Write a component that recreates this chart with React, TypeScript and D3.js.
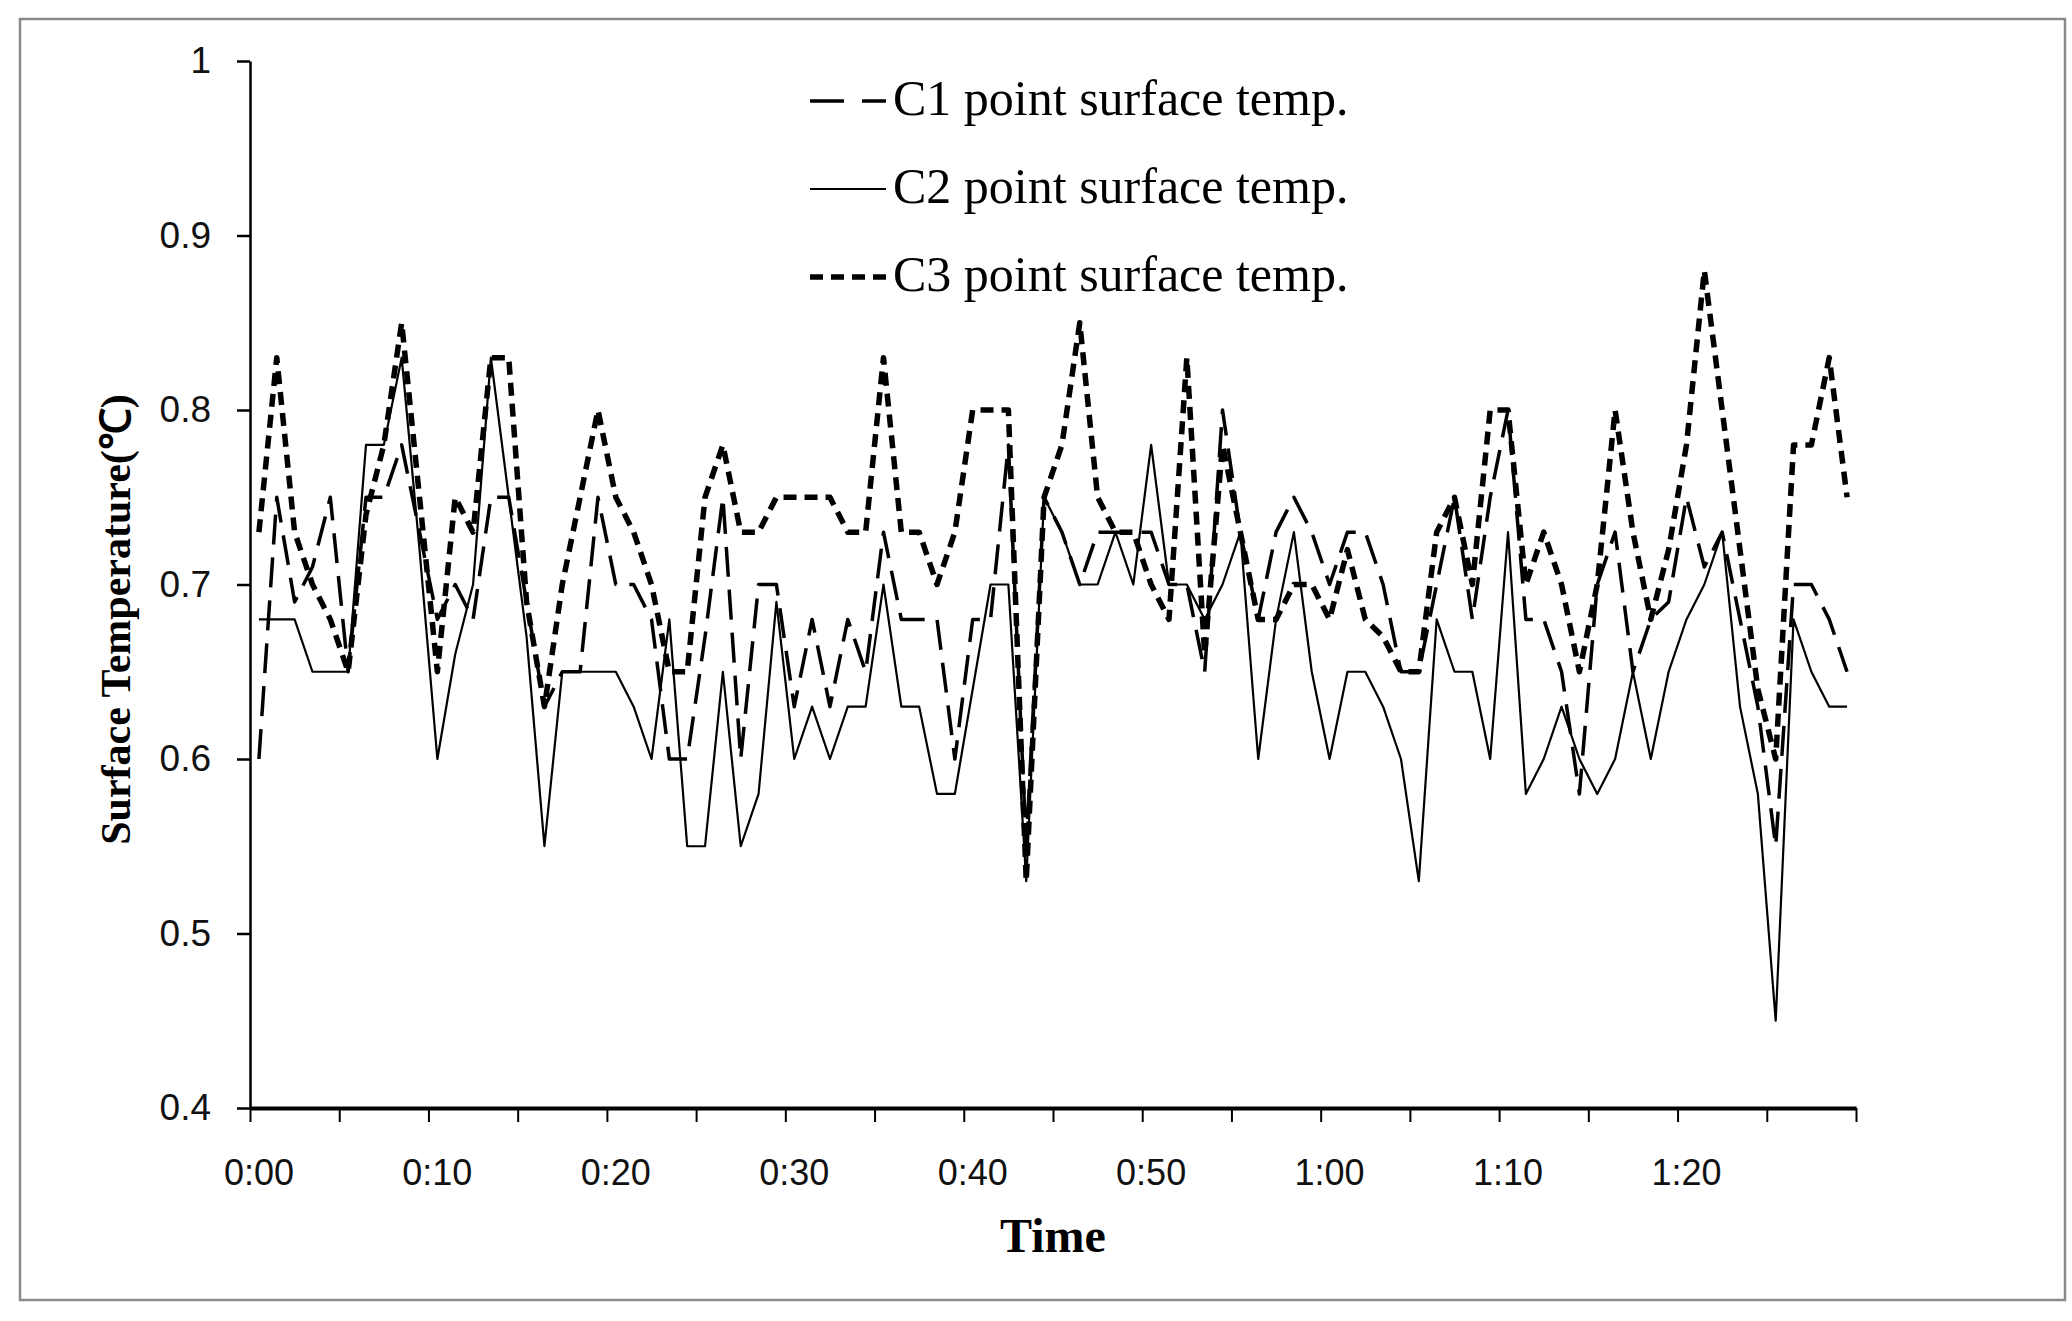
import React, { useEffect, useRef } from 'react';
import * as d3 from 'd3';

// one reading per minute, 0:00 .. 1:29
const times = d3.range(90).map(m => `${Math.floor(m / 60)}:${String(m % 60).padStart(2, '0')}`);

const c1Values = [
  0.60, 0.75, 0.69, 0.71, 0.75, 0.65, 0.75, 0.75, 0.78, 0.73,
  0.68, 0.70, 0.68, 0.75, 0.75, 0.69, 0.63, 0.65, 0.65, 0.75,
  0.70, 0.70, 0.68, 0.60, 0.60, 0.67, 0.75, 0.60, 0.70, 0.70,
  0.63, 0.68, 0.63, 0.68, 0.65, 0.73, 0.68, 0.68, 0.68, 0.60,
  0.68, 0.68, 0.78, 0.55, 0.75, 0.73, 0.70, 0.73, 0.73, 0.73,
  0.73, 0.70, 0.70, 0.65, 0.80, 0.73, 0.68, 0.73, 0.75, 0.73,
  0.70, 0.73, 0.73, 0.70, 0.65, 0.65, 0.70, 0.75, 0.68, 0.75,
  0.80, 0.68, 0.68, 0.65, 0.58, 0.70, 0.73, 0.65, 0.68, 0.69,
  0.75, 0.71, 0.73, 0.68, 0.63, 0.55, 0.70, 0.70, 0.68, 0.65,
];

const c2Values = [
  0.68, 0.68, 0.68, 0.65, 0.65, 0.65, 0.78, 0.78, 0.83, 0.72,
  0.60, 0.66, 0.70, 0.83, 0.75, 0.67, 0.55, 0.65, 0.65, 0.65,
  0.65, 0.63, 0.60, 0.68, 0.55, 0.55, 0.65, 0.55, 0.58, 0.69,
  0.60, 0.63, 0.60, 0.63, 0.63, 0.70, 0.63, 0.63, 0.58, 0.58,
  0.64, 0.70, 0.70, 0.53, 0.75, 0.73, 0.70, 0.70, 0.73, 0.70,
  0.78, 0.70, 0.70, 0.68, 0.70, 0.73, 0.60, 0.68, 0.73, 0.65,
  0.60, 0.65, 0.65, 0.63, 0.60, 0.53, 0.68, 0.65, 0.65, 0.60,
  0.73, 0.58, 0.60, 0.63, 0.60, 0.58, 0.60, 0.65, 0.60, 0.65,
  0.68, 0.70, 0.73, 0.63, 0.58, 0.45, 0.68, 0.65, 0.63, 0.63,
];

const c3Values = [
  0.73, 0.83, 0.73, 0.70, 0.68, 0.65, 0.74, 0.78, 0.85, 0.75,
  0.65, 0.75, 0.73, 0.83, 0.83, 0.69, 0.63, 0.70, 0.75, 0.80,
  0.75, 0.73, 0.70, 0.65, 0.65, 0.75, 0.78, 0.73, 0.73, 0.75,
  0.75, 0.75, 0.75, 0.73, 0.73, 0.83, 0.73, 0.73, 0.70, 0.73,
  0.80, 0.80, 0.80, 0.53, 0.75, 0.78, 0.85, 0.75, 0.73, 0.73,
  0.70, 0.68, 0.83, 0.66, 0.78, 0.73, 0.68, 0.68, 0.70, 0.70,
  0.68, 0.72, 0.68, 0.67, 0.65, 0.65, 0.73, 0.75, 0.70, 0.80,
  0.80, 0.70, 0.73, 0.70, 0.65, 0.70, 0.80, 0.73, 0.68, 0.72,
  0.78, 0.88, 0.80, 0.72, 0.64, 0.60, 0.78, 0.78, 0.83, 0.75,
];

const seriesNames = ['C1 point surface temp.', 'C2 point surface temp.', 'C3 point surface temp.'];
const yTicks = [0.4, 0.5, 0.6, 0.7, 0.8, 0.9, 1];
const xTickLabels = ['0:00', '0:10', '0:20', '0:30', '0:40', '0:50', '1:00', '1:10', '1:20'];

const W = 2072;
const H = 1321;

export default function App() {
  const svgRef = useRef<SVGSVGElement>(null);

  useEffect(() => {
    if (!svgRef.current) return;
    const svg = d3.select(svgRef.current);
    svg.selectAll('*').remove();

    const left = 250, right = 1856, top = 61, bottom = 1108;

    const x = d3.scaleBand<string>().domain(times).range([left, right]).padding(0);
    const bw = x.bandwidth();
    const cx = (i: number) => (x(times[i]) as number) + bw / 2;
    // linear minute scale only for tick marks at band edges
    const xm = d3.scaleLinear().domain([0, times.length]).range([left, right]);
    const y = d3.scaleLinear().domain([0.4, 1]).range([bottom, top]);

    // outer frame
    svg.append('rect')
      .attr('x', 20).attr('y', 19)
      .attr('width', 2045).attr('height', 1281)
      .attr('fill', 'white')
      .attr('stroke', '#8a8a8a')
      .attr('stroke-width', 2.5);

    // y axis
    const yAxis = svg.append('g')
      .attr('transform', `translate(${left},0)`)
      .call(d3.axisLeft(y).tickValues(yTicks).tickFormat(d3.format('~g') as any)
        .tickSize(13).tickSizeOuter(0).tickPadding(26));
    yAxis.select('.domain').attr('stroke', '#000').attr('stroke-width', 2.5);
    yAxis.selectAll('.tick line').attr('stroke', '#000').attr('stroke-width', 2.5);
    yAxis.selectAll('.tick text')
      .attr('fill', '#111')
      .style('font-family', '"Liberation Sans", Arial, sans-serif')
      .style('font-size', '37px');

    // x axis: ticks every 5 minutes at category boundaries
    const xAxis = svg.append('g')
      .attr('transform', `translate(0,${bottom})`)
      .call(d3.axisBottom(xm).tickValues(d3.range(0, times.length + 1, 5)).tickFormat(() => '')
        .tickSize(14).tickSizeOuter(0));
    xAxis.select('.domain').attr('stroke', '#000').attr('stroke-width', 4);
    xAxis.selectAll('.tick line').attr('stroke', '#000').attr('stroke-width', 2);

    svg.append('g')
      .selectAll('text')
      .data(xTickLabels)
      .enter()
      .append('text')
      .attr('x', (d) => cx(times.indexOf(d)))
      .attr('y', 1185)
      .attr('text-anchor', 'middle')
      .attr('fill', '#111')
      .style('font-family', '"Liberation Sans", Arial, sans-serif')
      .style('font-size', '36px')
      .text(d => d);

    // axis titles
    svg.append('text')
      .attr('x', (left + right) / 2)
      .attr('y', 1252)
      .attr('text-anchor', 'middle')
      .style('font-family', '"Liberation Serif", "Times New Roman", serif')
      .style('font-weight', 'bold')
      .style('font-size', '48px')
      .text('Time');

    svg.append('text')
      .attr('transform', `translate(130, ${(top + bottom) / 2 + 35}) rotate(-90)`)
      .attr('text-anchor', 'middle')
      .style('font-family', '"Liberation Serif", "Times New Roman", serif')
      .style('font-weight', 'bold')
      .style('font-size', '42px')
      .text('Surface Temperature(℃)');

    const line = d3.line<number>()
      .x((_, i) => cx(i))
      .y(d => y(d))
      .curve(d3.curveLinear);

    const series = [
      { name: seriesNames[0], values: c1Values, width: 3.5, dash: '30 13' },
      { name: seriesNames[1], values: c2Values, width: 2.2, dash: null },
      { name: seriesNames[2], values: c3Values, width: 5.5, dash: '13 8' },
    ];

    const plot = svg.append('g');
    series.forEach(s => {
      plot.append('path')
        .datum(s.values)
        .attr('d', line)
        .attr('fill', 'none')
        .attr('stroke', '#000')
        .attr('stroke-width', s.width)
        .attr('stroke-linejoin', 'round')
        .attr('stroke-dasharray', s.dash);
    });

    // legend
    const legend = svg.append('g');
    const legendY = [101, 189, 277];
    const items = legend.selectAll('.legend-item')
      .data(series)
      .enter()
      .append('g')
      .attr('class', 'legend-item')
      .attr('transform', (_, i) => `translate(0, ${legendY[i]})`);

    items.append('line')
      .attr('x1', 810).attr('x2', 886)
      .attr('y1', 0).attr('y2', 0)
      .attr('stroke', '#000')
      .attr('stroke-width', d => d.width)
      .attr('stroke-dasharray', (d, i) => (i === 0 ? '34 18 24' : d.dash));

    items.append('text')
      .attr('x', 893)
      .attr('y', 14)
      .style('font-family', '"Liberation Serif", "Times New Roman", serif')
      .style('font-size', '50px')
      .attr('fill', '#000')
      .text(d => d.name);
  }, []);

  return (
    <svg ref={svgRef} width={W} height={H}
      style={{ position: 'absolute', left: 0, top: 0, background: 'white' }} />
  );
}
